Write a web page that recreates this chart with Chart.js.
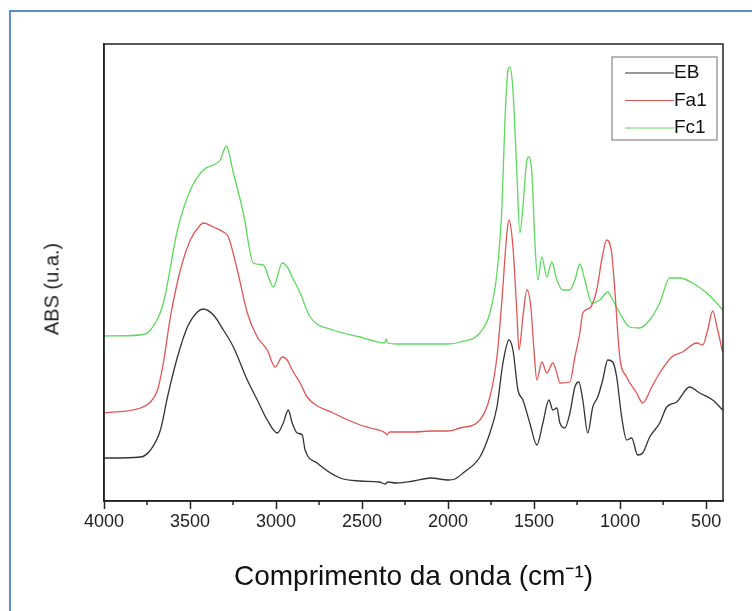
<!DOCTYPE html>
<html>
<head>
<meta charset="utf-8">
<script src="https://cdn.jsdelivr.net/npm/chart.js@4.4.0/dist/chart.umd.min.js"></script>
<style>
  html, body { margin: 0; padding: 0; background: #fff; }
  #wrap { position: relative; width: 752px; height: 611px; overflow: hidden; }
  #frame { position: absolute; left: 9px; top: 10px; width: 800px; height: 700px;
           border-left: 2px solid #5b8bd3; border-top: 2px solid #5b8bd3; }
  #chart { position: absolute; left: 0; top: 0; }
  #ytitle { position: absolute; left: 52px; top: 289px; transform: translate(-50%, -50%) rotate(-90deg);
            font: 20px "Liberation Sans", Arial, sans-serif; color: #222; white-space: nowrap; }
</style>
</head>
<body>
<div id="wrap">
  <div id="frame"></div>
  <canvas id="chart" width="752" height="611"></canvas>
  <div id="ytitle">ABS (u.a.)</div>
</div>
<script>
// spectra (wavenumber, absorbance in arbitrary units)
const ebWave = [4000,3788,3730,3672,3631,3573,3515,3457,3423,3364,3306,3248,3167,3109,3051,2993,2958,2929,2906,2877,2848,2831,2761,2627,2511,2400,2365,2350,2300,2200,2100,2000,1960,1913,1815,1757,1716,1681,1646,1623,1594,1565,1525,1484,1449,1414,1391,1368,1350,1321,1292,1263,1240,1217,1188,1159,1130,1101,1072,1043,1020,991,962,933,898,869,828,770,729,671,596,538,462,404];
const ebAbs = [0.43,0.44,0.51,0.71,1.04,1.44,1.74,1.89,1.92,1.86,1.71,1.54,1.21,1.01,0.81,0.68,0.78,0.91,0.78,0.68,0.66,0.51,0.38,0.23,0.20,0.19,0.17,0.19,0.18,0.20,0.23,0.21,0.22,0.28,0.44,0.68,0.94,1.38,1.61,1.51,1.11,1.01,0.78,0.56,0.78,1.01,0.91,0.93,0.78,0.73,0.88,1.14,1.19,1.01,0.68,0.94,1.04,1.21,1.41,1.39,1.24,0.84,0.61,0.63,0.46,0.48,0.64,0.78,0.94,0.99,1.14,1.08,1.01,0.91];

const fa1Wave = [4000,3788,3730,3689,3655,3614,3556,3498,3440,3423,3364,3306,3277,3225,3167,3109,3051,3005,2964,2935,2906,2860,2819,2668,2511,2450,2365,2355,2340,2200,2100,2000,1931,1815,1757,1716,1687,1658,1646,1623,1600,1588,1565,1542,1519,1501,1484,1455,1426,1391,1368,1350,1292,1263,1234,1217,1176,1136,1107,1078,1049,1031,1002,962,904,869,816,770,700,637,555,520,491,462,433,404];
const fa1Abs = [0.88,0.93,0.99,1.11,1.38,1.84,2.31,2.61,2.76,2.78,2.74,2.69,2.64,2.31,1.88,1.64,1.51,1.34,1.44,1.41,1.31,1.18,1.04,0.88,0.76,0.73,0.68,0.66,0.69,0.69,0.70,0.70,0.73,0.81,1.04,1.44,2.01,2.68,2.81,2.54,1.88,1.51,1.84,2.11,1.94,1.51,1.21,1.39,1.28,1.38,1.28,1.18,1.19,1.44,1.68,1.88,1.93,2.11,2.41,2.61,2.48,2.11,1.44,1.24,1.08,0.98,1.14,1.28,1.44,1.49,1.58,1.56,1.71,1.90,1.71,1.49];

const fc1Wave = [4000,3788,3730,3655,3573,3498,3423,3365,3324,3289,3248,3190,3132,3074,3016,2964,2935,2906,2860,2802,2668,2511,2450,2370,2360,2350,2300,2000,1931,1815,1757,1716,1687,1670,1652,1641,1623,1600,1583,1565,1542,1530,1513,1496,1478,1455,1426,1397,1368,1333,1292,1263,1234,1205,1165,1118,1072,1043,1002,944,886,828,770,712,654,579,497,439,404];
const fc1Abs = [1.65,1.66,1.71,1.98,2.71,3.11,3.31,3.36,3.41,3.55,3.28,2.88,2.38,2.36,2.14,2.38,2.34,2.24,2.08,1.84,1.71,1.64,1.61,1.58,1.62,1.58,1.57,1.57,1.59,1.68,1.88,2.28,2.94,3.78,4.31,4.34,4.11,3.28,2.68,2.94,3.41,3.44,3.28,2.61,2.21,2.44,2.24,2.39,2.21,2.11,2.11,2.21,2.37,2.21,1.98,2.01,2.09,2.01,1.88,1.74,1.73,1.81,1.98,2.23,2.23,2.18,2.08,1.98,1.91];

const seriesLabels = ['EB', 'Fa1', 'Fc1'];
const seriesColors = ['#333333', '#e05555', '#5ed85e'];
const xTickLabels = [4000, 3500, 3000, 2500, 2000, 1500, 1000, 500];
const xMinorTicks = [3750, 3250, 2750, 2250, 1750, 1250, 750];

const FONT = '"Liberation Sans", Arial, sans-serif';

function toPoints(xs, ys) {
  return xs.map((x, i) => ({ x: x, y: ys[i] }));
}

// box around plot + short minor ticks
const frameTicks = {
  id: 'frameTicks',
  afterDraw(chart) {
    const { ctx, chartArea: { left, top, right, bottom }, scales: { x } } = chart;
    ctx.save();
    ctx.strokeStyle = '#222';
    ctx.lineWidth = 1.5;
    ctx.strokeRect(left, top, right - left, bottom - top);
    ctx.beginPath();
    xMinorTicks.forEach(v => {
      const px = x.getPixelForValue(v);
      ctx.moveTo(px, bottom);
      ctx.lineTo(px, bottom + 4);
    });
    ctx.stroke();
    ctx.restore();
  }
};

// legend box in the top right corner of the plot
const boxLegend = {
  id: 'boxLegend',
  afterDraw(chart) {
    const { ctx, chartArea } = chart;
    const x0 = chartArea.right - 111, y0 = chartArea.top + 13, w = 105, h = 83;
    ctx.save();
    ctx.fillStyle = '#fff';
    ctx.fillRect(x0, y0, w, h);
    ctx.strokeStyle = '#888';
    ctx.lineWidth = 1.2;
    ctx.strokeRect(x0, y0, w, h);
    ctx.font = '19px ' + FONT;
    ctx.textBaseline = 'alphabetic';
    chart.data.datasets.forEach((ds, i) => {
      const ly = y0 + 16 + i * 27.5;
      ctx.strokeStyle = ds.borderColor;
      ctx.lineWidth = 1.2;
      ctx.beginPath();
      ctx.moveTo(x0 + 13, ly);
      ctx.lineTo(x0 + 62, ly);
      ctx.stroke();
      ctx.fillStyle = '#111';
      ctx.fillText(ds.label, x0 + 62, ly + 5);
    });
    ctx.restore();
  }
};

const allWaves = [ebWave, fa1Wave, fc1Wave];
const allAbs = [ebAbs, fa1Abs, fc1Abs];

new Chart(document.getElementById('chart'), {
  type: 'line',
  data: {
    datasets: seriesLabels.map((lab, i) => ({
      label: lab,
      data: toPoints(allWaves[i], allAbs[i]),
      borderColor: seriesColors[i],
      borderWidth: 1.3,
      pointRadius: 0,
      cubicInterpolationMode: 'monotone',
      fill: false
    }))
  },
  options: {
    responsive: false,
    animation: false,
    layout: { padding: { top: 44, right: 29, left: 0, bottom: 0 } },
    plugins: { legend: { display: false }, tooltip: { enabled: false } },
    scales: {
      x: {
        type: 'linear',
        reverse: true,
        min: 402,
        max: 4000,
        afterBuildTicks: s => { s.ticks = xTickLabels.map(v => ({ value: v })); },
        afterFit: s => { s.height = 110; },
        grid: { drawOnChartArea: false, drawTicks: true, tickLength: 8, tickWidth: 1.5, tickColor: '#222' },
        border: { display: true, color: '#222', width: 1.5 },
        ticks: {
          font: { family: FONT, size: 18 }, color: '#222', padding: 2,
          maxRotation: 0, autoSkip: false,
          callback: v => String(v)
        },
        title: {
          display: true,
          text: 'Comprimento da onda (cm\u207B\u00B9)',
          font: { family: FONT, size: 28 },
          color: '#111',
          padding: { top: 0, bottom: 17 }
        }
      },
      y: {
        min: 0,
        max: 4.57,
        afterFit: s => { s.width = 104; },
        ticks: { display: false },
        grid: { display: false, drawTicks: false },
        border: { display: true, color: '#222', width: 1.5 }
      }
    }
  },
  plugins: [frameTicks, boxLegend]
});
</script>
</body>
</html>
